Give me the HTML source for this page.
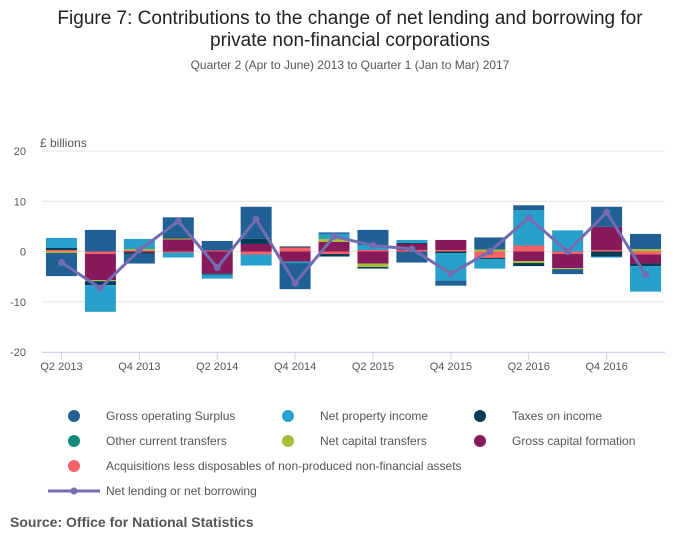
<!DOCTYPE html>
<html><head><meta charset="utf-8"><style>
body{margin:0;background:#fff;font-family:"Liberation Sans",sans-serif}
</style></head><body>
<svg id="c" width="700" height="549" xmlns="http://www.w3.org/2000/svg" font-family="Liberation Sans, sans-serif">
<text x="350" y="24" text-anchor="middle" font-size="19" fill="#222">Figure 7: Contributions to the change of net lending and borrowing for</text>
<text x="350" y="46" text-anchor="middle" font-size="19" fill="#222">private non-financial corporations</text>
<text x="350" y="69" text-anchor="middle" font-size="12" fill="#555">Quarter 2 (Apr to June) 2013 to Quarter 1 (Jan to Mar) 2017</text>
<text x="40" y="147" font-size="12" fill="#555">£ billions</text>
<g id="grid"></g><g id="bars"></g><g id="line"></g><g id="axes"></g><g id="legend"></g>
<text x="10" y="527" font-size="14" font-weight="bold" fill="#555">Source: Office for National Statistics</text>
</svg>
<script>
const categories=["Q2 2013","Q3 2013","Q4 2013","Q1 2014","Q2 2014","Q3 2014","Q4 2014","Q1 2015","Q2 2015","Q3 2015","Q4 2015","Q1 2016","Q2 2016","Q3 2016","Q4 2016","Q1 2017"];
const seriesNames=["Gross operating Surplus","Net property income","Taxes on income","Other current transfers","Net capital transfers","Gross capital formation","Acquisitions less disposables of non-produced non-financial assets"];
const colors=["#206095","#27a0cc","#003c57","#118c7b","#a8bd3a","#871a5b","#f66068"];
const gos=[-4.6,4.3,-2.0,4.0,1.9,6.4,-5.2,0.3,3.0,-2.2,-1.0,2.4,1.0,-1.0,4.0,3.0];
const npi=[2.0,-5.3,2.0,-1.0,-0.8,-2.2,-0.3,1.0,1.0,0.6,-5.5,-1.9,7.0,4.2,-0.2,-5.1];
const taxes=[0.4,-0.8,-0.2,0.2,-0.2,1.0,0.2,-0.5,-0.3,0.2,-0.3,-0.2,-0.6,0,-1.0,-0.5];
const other=[0,0,0,0,0,0,0,0,0,0,0,0,0,0,0,0];
const netcap=[-0.3,-0.2,0.3,0.2,0,0,0,0.6,-0.7,0,0,0.4,-0.4,-0.2,0,0.5];
const gcf=[0,-5.2,-0.2,2.4,-4.4,1.5,-2.0,1.9,-2.4,1.2,2.0,0,-1.9,-2.8,4.6,-1.8];
const acq=[0.3,-0.5,0.2,-0.2,0.2,-0.6,0.8,-0.5,0.3,0.3,0.3,-1.3,1.2,-0.5,0.3,-0.6];
const netLending=[-2.2,-7.3,0.3,6.0,-3.2,6.4,-6.3,3.0,1.2,0.5,-4.4,0,6.7,0,7.8,-4.6];
const yTicks=[20,10,0,-10,-20];
const xTickLabels=["Q2 2013","Q4 2013","Q2 2014","Q4 2014","Q2 2015","Q4 2015","Q2 2016","Q4 2016"];
const series=[gos,npi,taxes,other,netcap,gcf,acq];
const NS="http://www.w3.org/2000/svg";
const L=42,R=665,T=151,B=352,yMin=-20,yMax=20;
const bw=(R-L)/categories.length;
const y=v=>T+(yMax-v)/(yMax-yMin)*(B-T);
const xc=i=>L+bw*(i+0.5);
function mk(t,a,p){const e=document.createElementNS(NS,t);for(const k in a)e.setAttribute(k,a[k]);document.getElementById(p).appendChild(e);return e;}
yTicks.forEach(t=>{
 const g=mk('line',{x1:L,x2:R,y1:y(t),y2:y(t),stroke:'#e6e6e6'},'grid');
 
 
 const tx=mk('text',{x:26,y:y(t)+4,'text-anchor':'end','font-size':11,fill:'#555'},'axes');
 tx.textContent=t;
 
 
});
categories.forEach((c,i)=>{
 let pos=0,neg=0;
 for(let s=series.length-1;s>=0;s--){
  const v=series[s][i]; if(!v)continue;
  let y0,y1;
  if(v>0){y0=pos;y1=pos+v;pos=y1;}else{y0=neg;y1=neg+v;neg=y1;}
  const r=mk('rect',{x:xc(i)-15.5,width:31,y:Math.min(y(y0),y(y1)),height:Math.abs(y(y0)-y(y1)),fill:colors[s]},'bars');
  
  
 }
});
const pts=netLending.map((v,i)=>xc(i)+','+y(v)).join(' ');
const pl=mk('polyline',{points:pts,fill:'none',stroke:'#746cb1','stroke-width':3},'line');


netLending.forEach((v,i)=>{
 const p=mk('circle',{cx:xc(i),cy:y(v),r:3.5,fill:'#746cb1'},'line');
 
 
});
const ax=mk('line',{x1:L,x2:R,y1:B+0.5,y2:B+0.5,stroke:'#ccd6eb'},'axes');


xTickLabels.forEach(lb=>{
 const i=categories.indexOf(lb);
 const tk=mk('line',{x1:xc(i),x2:xc(i),y1:B,y2:B+8,stroke:'#ccd6eb'},'axes');
 
 
 const t=mk('text',{x:xc(i),y:B+18,'text-anchor':'middle','font-size':11,fill:'#555'},'axes');
 t.textContent=lb;
 
 
});
const lx=[74,288,480],ly=[416,441,466];
seriesNames.forEach((n,s)=>{
 const cx=lx[s%3],cy=ly[Math.floor(s/3)];
 const c=mk('circle',{cx:cx,cy:cy,r:6,fill:colors[s]},'legend');
 
 
 const t=mk('text',{x:cx+32,y:cy+4,'font-size':12,fill:'#555'},'legend');
 t.textContent=n;
 
 
});
const ll=mk('line',{x1:48,x2:100,y1:491,y2:491,stroke:'#746cb1','stroke-width':3},'legend');


const lc=mk('circle',{cx:74,cy:491,r:3.5,fill:'#746cb1'},'legend');


const lt=mk('text',{x:106,y:495,'font-size':12,fill:'#555'},'legend');
lt.textContent='Net lending or net borrowing';


</script>
</body></html>
